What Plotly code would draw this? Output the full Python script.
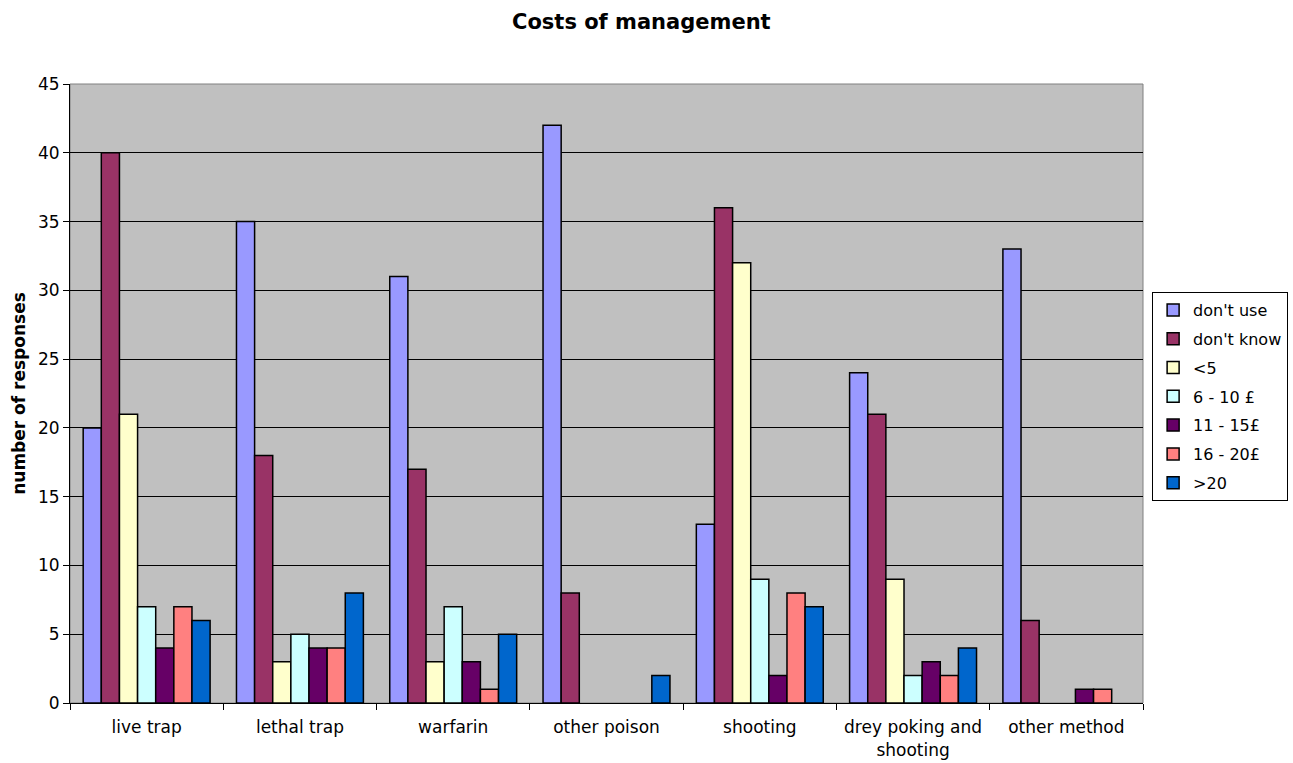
import plotly.graph_objects as go

categories = ["live trap", "lethal trap", "warfarin", "other poison", "shooting",
              "drey poking and<br>shooting", "other method"]
series_names = ["don't use", "don't know", "<5", "6 - 10 £", "11 - 15£", "16 - 20£", ">20"]
dont_use = [20, 35, 31, 42, 13, 24, 33]
dont_know = [40, 18, 17, 8, 36, 21, 6]
lt5 = [21, 3, 3, 0, 32, 9, 0]
p6_10 = [7, 5, 7, 0, 9, 2, 0]
p11_15 = [4, 4, 3, 0, 2, 3, 1]
p16_20 = [7, 4, 1, 0, 8, 2, 1]
gt20 = [6, 8, 5, 2, 7, 4, 0]
colors = ["#9999FF", "#993366", "#FFFFCC", "#CCFFFF", "#660066", "#FF8080", "#0066CC"]

series = [dont_use, dont_know, lt5, p6_10, p11_15, p16_20, gt20]

fig = go.Figure()
for name, vals, col in zip(series_names, series, colors):
    fig.add_trace(go.Bar(
        x=categories, y=[v if v else None for v in vals], name=name,
        legendgroup=name,
        marker=dict(color=col, line=dict(color="black", width=1.5)),
    ))

font_family = "DejaVu Sans, Verdana, sans-serif"
fig.update_layout(
    width=1293, height=763,
    margin=dict(l=70, r=150, t=84, b=60, autoexpand=False),
    paper_bgcolor="white",
    plot_bgcolor="#C0C0C0",
    barmode="group",
    bargap=0.172,
    bargroupgap=0,
    font=dict(family=font_family, size=17, color="black"),
    title=dict(text="<b>Costs of management</b>", x=0.496, xanchor="center",
               y=0.972, yanchor="middle", font=dict(size=21, family=font_family)),
    legend=dict(x=1.0085, xanchor="left", y=0.664, yanchor="top",
                bordercolor="black", borderwidth=1, bgcolor="white",
                font=dict(size=16, family=font_family),
                tracegroupgap=5, itemwidth=30),
    showlegend=True,
)
fig.update_xaxes(
    type="category", tickson="boundaries", ticks="outside", ticklen=6,
    tickcolor="black", showline=True, linecolor="black", linewidth=1,
    showgrid=False, mirror=False, tickfont=dict(size=17), ticklabelstandoff=9,
    automargin=False,
)
fig.update_yaxes(
    range=[0, 45], dtick=5, tick0=0, ticks="outside", ticklen=6, tickcolor="black",
    showline=True, linecolor="black", linewidth=1,
    showgrid=True, gridcolor="black", gridwidth=1, zeroline=False,
    title=dict(text="<b>number of responses</b>", font=dict(size=17), standoff=8),
    tickfont=dict(size=17), automargin=False,
)
fig.add_shape(type="rect", xref="paper", yref="paper", x0=0, y0=0, x1=1, y1=1,
              line=dict(color="#808080", width=1), layer="below")

fig.write_html("out.html")
